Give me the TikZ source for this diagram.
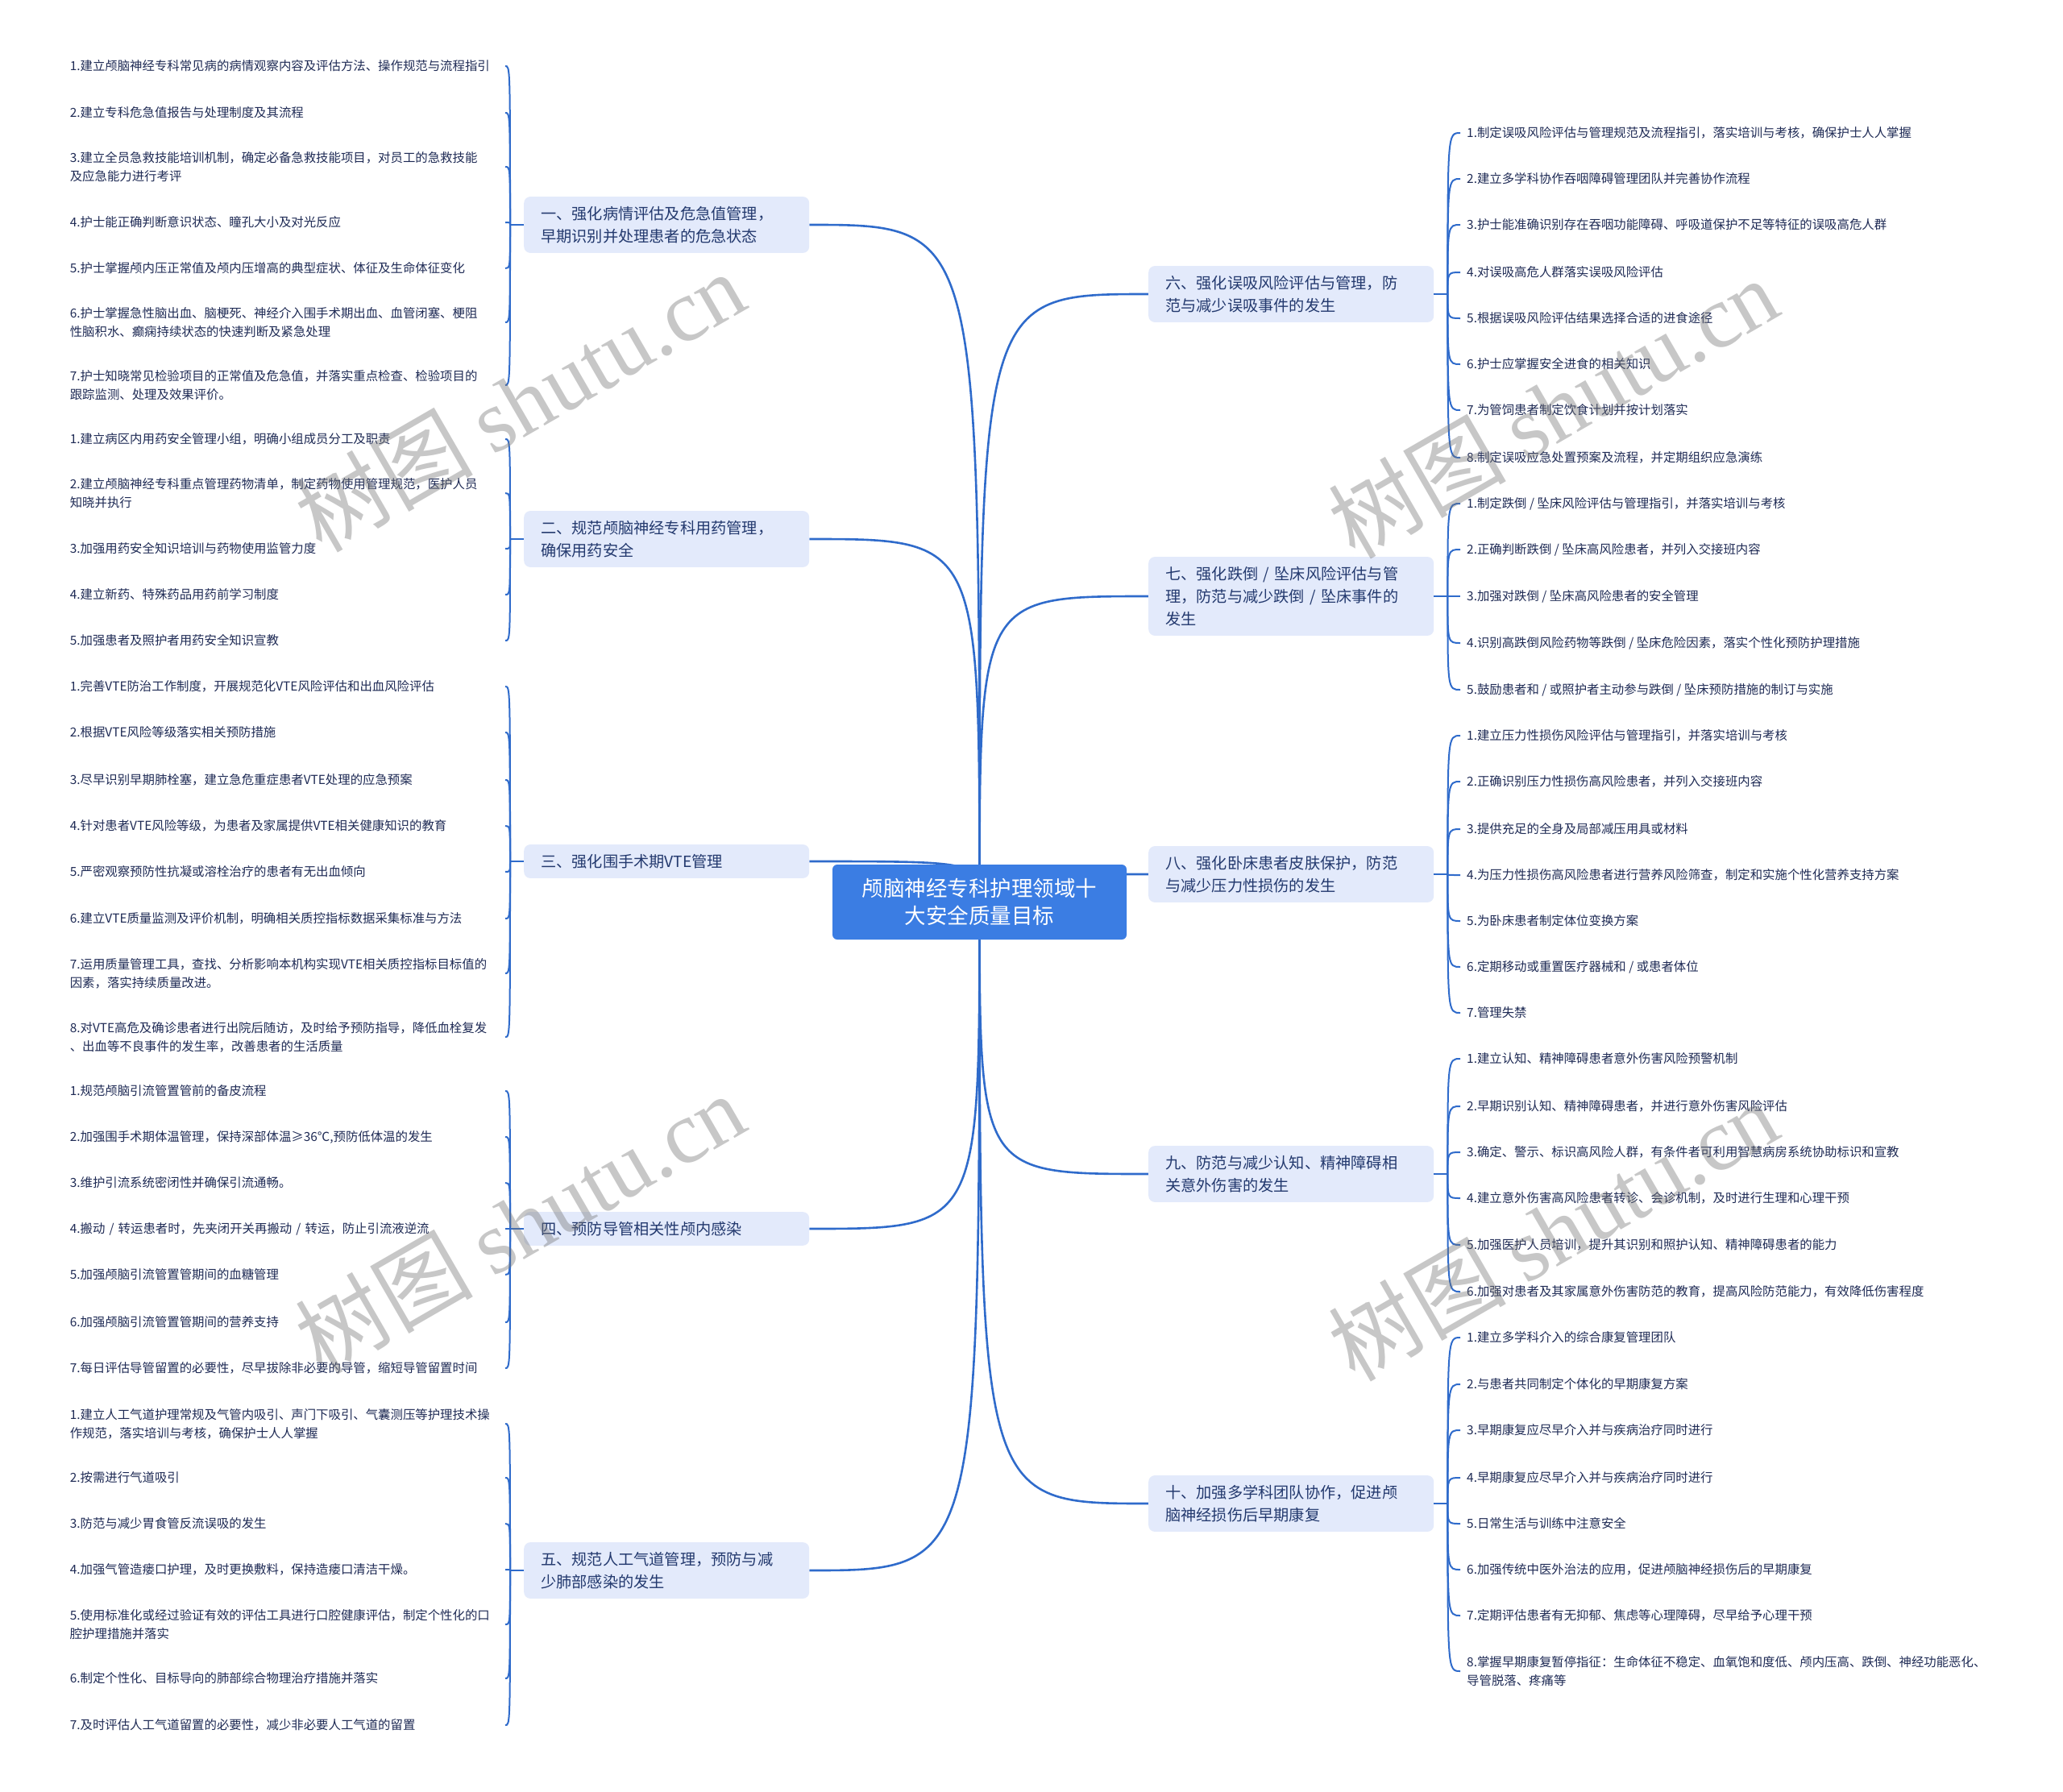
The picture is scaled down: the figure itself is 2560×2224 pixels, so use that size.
\documentclass[tikz,border=0pt]{standalone}
\usepackage{fontspec}
\setmainfont{Noto Sans CJK SC}
\newfontfamily\wmserif{Liberation Serif}
\usetikzlibrary{calc}
\pgfdeclarelayer{background}
\pgfsetlayers{background,main}
\definecolor{linec}{HTML}{2F6BCB}
\definecolor{centerc}{HTML}{3B7DE3}
\definecolor{branchc}{HTML}{E3EAFB}
\definecolor{branchtxt}{HTML}{23396E}
\definecolor{leaftxt}{HTML}{1F2B55}
\newcommand\leaffont{\fontsize{15.4}{23}\selectfont}
\newcommand\branchfont{\fontsize{19.2}{28}\selectfont}
\newcommand\centerfont{\fontsize{26.5}{34}\selectfont}
\newcommand\wmfont{\fontsize{110}{110}\selectfont}
\tikzset{
  mainline/.style={draw=linec, line width=2.6pt},
  leafline/.style={draw=linec, line width=2pt},
  centernode/.style={fill=centerc, rounded corners=6pt, minimum width=365pt, minimum height=93pt, align=center, font=\centerfont, text=white, inner sep=0pt},
  branch/.style={fill=branchc, rounded corners=8pt, text width=312pt, align=left, inner xsep=21pt, inner ysep=12pt, font=\branchfont, text=branchtxt, anchor=west},
  leafL/.style={anchor=east, text width=540pt, align=left, inner sep=0pt, font=\leaffont, text=leaftxt},
  leafR/.style={anchor=west, align=left, inner xsep=8pt, inner ysep=0pt, font=\leaffont, text=leaftxt},
  wm/.style={rotate=30, text=black!55, opacity=0.4, font=\wmfont, inner sep=0pt}
}
\begin{document}
\begin{tikzpicture}[x=1pt, y=-1pt]
\useasboundingbox (0,0) rectangle (2560,2224);

% center
\node[centernode] (C) at (1215.5,1119.5) {颅脑神经专科护理领域十\\大安全质量目标};

% left branches
\node[branch] (B1) at (650,279) {一、强化病情评估及危急值管理，\\早期识别并处理患者的危急状态};
\node[branch] (B2) at (650,669) {二、规范颅脑神经专科用药管理，\\确保用药安全};
\node[branch] (B3) at (650,1069) {三、强化围手术期VTE管理};
\node[branch] (B4) at (650,1525) {四、预防导管相关性颅内感染};
\node[branch] (B5) at (650,1949) {五、规范人工气道管理，预防与减\\少肺部感染的发生};

% right branches
\node[branch] (B6) at (1425,365) {六、强化误吸风险评估与管理，防\\范与减少误吸事件的发生};
\node[branch] (B7) at (1425,740) {七、强化跌倒 / 坠床风险评估与管\\理，防范与减少跌倒 / 坠床事件的\\发生};
\node[branch] (B8) at (1425,1085) {八、强化卧床患者皮肤保护，防范\\与减少压力性损伤的发生};
\node[branch] (B9) at (1425,1457) {九、防范与减少认知、精神障碍相\\关意外伤害的发生};
\node[branch] (B10) at (1425,1866) {十、加强多学科团队协作，促进颅\\脑神经损伤后早期康复};

% leaves of B1
\node[leafL] (a1) at (627,82) {1.建立颅脑神经专科常见病的病情观察内容及评估方法、操作规范与流程指引};
\node[leafL] (a2) at (627,140) {2.建立专科危急值报告与处理制度及其流程};
\node[leafL] (a3) at (627,207) {3.建立全员急救技能培训机制，确定必备急救技能项目，对员工的急救技能\\及应急能力进行考评};
\node[leafL] (a4) at (627,276) {4.护士能正确判断意识状态、瞳孔大小及对光反应};
\node[leafL] (a5) at (627,333) {5.护士掌握颅内压正常值及颅内压增高的典型症状、体征及生命体征变化};
\node[leafL] (a6) at (627,400) {6.护士掌握急性脑出血、脑梗死、神经介入围手术期出血、血管闭塞、梗阻\\性脑积水、癫痫持续状态的快速判断及紧急处理};
\node[leafL] (a7) at (627,478) {7.护士知晓常见检验项目的正常值及危急值，并落实重点检查、检验项目的\\跟踪监测、处理及效果评价。};

% leaves of B2
\node[leafL] (b1) at (627,545) {1.建立病区内用药安全管理小组，明确小组成员分工及职责};
\node[leafL] (b2) at (627,612) {2.建立颅脑神经专科重点管理药物清单，制定药物使用管理规范，医护人员\\知晓并执行};
\node[leafL] (b3) at (627,681) {3.加强用药安全知识培训与药物使用监管力度};
\node[leafL] (b4) at (627,738) {4.建立新药、特殊药品用药前学习制度};
\node[leafL] (b5) at (627,795) {5.加强患者及照护者用药安全知识宣教};

% leaves of B3
\node[leafL] (c1) at (627,852) {1.完善VTE防治工作制度，开展规范化VTE风险评估和出血风险评估};
\node[leafL] (c2) at (627,909) {2.根据VTE风险等级落实相关预防措施};
\node[leafL] (c3) at (627,968) {3.尽早识别早期肺栓塞，建立急危重症患者VTE处理的应急预案};
\node[leafL] (c4) at (627,1025) {4.针对患者VTE风险等级，为患者及家属提供VTE相关健康知识的教育};
\node[leafL] (c5) at (627,1082) {5.严密观察预防性抗凝或溶栓治疗的患者有无出血倾向};
\node[leafL] (c6) at (627,1140) {6.建立VTE质量监测及评价机制，明确相关质控指标数据采集标准与方法};
\node[leafL] (c7) at (627,1208) {7.运用质量管理工具，查找、分析影响本机构实现VTE相关质控指标目标值的\\因素，落实持续质量改进。};
\node[leafL] (c8) at (627,1287) {8.对VTE高危及确诊患者进行出院后随访，及时给予预防指导，降低血栓复发\\、出血等不良事件的发生率，改善患者的生活质量};

% leaves of B4
\node[leafL] (d1) at (627,1354) {1.规范颅脑引流管置管前的备皮流程};
\node[leafL] (d2) at (627,1411) {2.加强围手术期体温管理，保持深部体温≥36℃,预防低体温的发生};
\node[leafL] (d3) at (627,1468) {3.维护引流系统密闭性并确保引流通畅。};
\node[leafL] (d4) at (627,1525) {4.搬动 / 转运患者时，先夹闭开关再搬动 / 转运，防止引流液逆流};
\node[leafL] (d5) at (627,1582) {5.加强颅脑引流管置管期间的血糖管理};
\node[leafL] (d6) at (627,1641) {6.加强颅脑引流管置管期间的营养支持};
\node[leafL] (d7) at (627,1698) {7.每日评估导管留置的必要性，尽早拔除非必要的导管，缩短导管留置时间};

% leaves of B5
\node[leafL] (e1) at (627,1767) {1.建立人工气道护理常规及气管内吸引、声门下吸引、气囊测压等护理技术操\\作规范，落实培训与考核，确保护士人人掌握};
\node[leafL] (e2) at (627,1834) {2.按需进行气道吸引};
\node[leafL] (e3) at (627,1891) {3.防范与减少胃食管反流误吸的发生};
\node[leafL] (e4) at (627,1948) {4.加强气管造瘘口护理，及时更换敷料，保持造瘘口清洁干燥。};
\node[leafL] (e5) at (627,2016) {5.使用标准化或经过验证有效的评估工具进行口腔健康评估，制定个性化的口\\腔护理措施并落实};
\node[leafL] (e6) at (627,2083) {6.制定个性化、目标导向的肺部综合物理治疗措施并落实};
\node[leafL] (e7) at (627,2141) {7.及时评估人工气道留置的必要性，减少非必要人工气道的留置};

% leaves of B6
\node[leafR] (f1) at (1812,165) {1.制定误吸风险评估与管理规范及流程指引，落实培训与考核，确保护士人人掌握};
\node[leafR] (f2) at (1812,222) {2.建立多学科协作吞咽障碍管理团队并完善协作流程};
\node[leafR] (f3) at (1812,279) {3.护士能准确识别存在吞咽功能障碍、呼吸道保护不足等特征的误吸高危人群};
\node[leafR] (f4) at (1812,338) {4.对误吸高危人群落实误吸风险评估};
\node[leafR] (f5) at (1812,395) {5.根据误吸风险评估结果选择合适的进食途径};
\node[leafR] (f6) at (1812,452) {6.护士应掌握安全进食的相关知识};
\node[leafR] (f7) at (1812,509) {7.为管饲患者制定饮食计划并按计划落实};
\node[leafR] (f8) at (1812,568) {8.制定误吸应急处置预案及流程，并定期组织应急演练};

% leaves of B7
\node[leafR] (g1) at (1812,625) {1.制定跌倒 / 坠床风险评估与管理指引，并落实培训与考核};
\node[leafR] (g2) at (1812,682) {2.正确判断跌倒 / 坠床高风险患者，并列入交接班内容};
\node[leafR] (g3) at (1812,740) {3.加强对跌倒 / 坠床高风险患者的安全管理};
\node[leafR] (g4) at (1812,798) {4.识别高跌倒风险药物等跌倒 / 坠床危险因素，落实个性化预防护理措施};
\node[leafR] (g5) at (1812,856) {5.鼓励患者和 / 或照护者主动参与跌倒 / 坠床预防措施的制订与实施};

% leaves of B8
\node[leafR] (h1) at (1812,913) {1.建立压力性损伤风险评估与管理指引，并落实培训与考核};
\node[leafR] (h2) at (1812,970) {2.正确识别压力性损伤高风险患者，并列入交接班内容};
\node[leafR] (h3) at (1812,1029) {3.提供充足的全身及局部减压用具或材料};
\node[leafR] (h4) at (1812,1086) {4.为压力性损伤高风险患者进行营养风险筛查，制定和实施个性化营养支持方案};
\node[leafR] (h5) at (1812,1143) {5.为卧床患者制定体位变换方案};
\node[leafR] (h6) at (1812,1200) {6.定期移动或重置医疗器械和 / 或患者体位};
\node[leafR] (h7) at (1812,1257) {7.管理失禁};

% leaves of B9
\node[leafR] (i1) at (1812,1314) {1.建立认知、精神障碍患者意外伤害风险预警机制};
\node[leafR] (i2) at (1812,1373) {2.早期识别认知、精神障碍患者，并进行意外伤害风险评估};
\node[leafR] (i3) at (1812,1430) {3.确定、警示、标识高风险人群，有条件者可利用智慧病房系统协助标识和宣教};
\node[leafR] (i4) at (1812,1487) {4.建立意外伤害高风险患者转诊、会诊机制，及时进行生理和心理干预};
\node[leafR] (i5) at (1812,1545) {5.加强医护人员培训，提升其识别和照护认知、精神障碍患者的能力};
\node[leafR] (i6) at (1812,1603) {6.加强对患者及其家属意外伤害防范的教育，提高风险防范能力，有效降低伤害程度};

% leaves of B10
\node[leafR] (j1) at (1812,1660) {1.建立多学科介入的综合康复管理团队};
\node[leafR] (j2) at (1812,1718) {2.与患者共同制定个体化的早期康复方案};
\node[leafR] (j3) at (1812,1775) {3.早期康复应尽早介入并与疾病治疗同时进行};
\node[leafR] (j4) at (1812,1834) {4.早期康复应尽早介入并与疾病治疗同时进行};
\node[leafR] (j5) at (1812,1891) {5.日常生活与训练中注意安全};
\node[leafR] (j6) at (1812,1948) {6.加强传统中医外治法的应用，促进颅脑神经损伤后的早期康复};
\node[leafR] (j7) at (1812,2005) {7.定期评估患者有无抑郁、焦虑等心理障碍，尽早给予心理干预};
\node[leafR] (j8) at (1812,2074) {8.掌握早期康复暂停指征：生命体征不稳定、血氧饱和度低、颅内压高、跌倒、神经功能恶化、\\导管脱落、疼痛等};

% spine coordinates
\coordinate (s1) at ([xshift=-17pt]B1.west);
\coordinate (s2) at ([xshift=-17pt]B2.west);
\coordinate (s3) at ([xshift=-17pt]B3.west);
\coordinate (s4) at ([xshift=-17pt]B4.west);
\coordinate (s5) at ([xshift=-17pt]B5.west);
\coordinate (s6) at ([xshift=17pt]B6.east);
\coordinate (s7) at ([xshift=17pt]B7.east);
\coordinate (s8) at ([xshift=17pt]B8.east);
\coordinate (s9) at ([xshift=17pt]B9.east);
\coordinate (s10) at ([xshift=17pt]B10.east);

\begin{pgfonlayer}{background}
\fill[white] (0,0) rectangle (2560,2224);
\foreach \b in {B1,B2,B3,B4,B5}
  \draw[mainline] (C.center) .. controls (C.center |- \b.east) .. (\b.east);
\foreach \b in {B6,B7,B8,B9,B10}
  \draw[mainline] (C.center) .. controls (C.center |- \b.west) .. (\b.west);
\end{pgfonlayer}

% brackets
\draw[leafline] (B1.west) -- (s1);
\foreach \n in {a1,a2,a3,a4,a5,a6,a7} \draw[leafline] (s1) .. controls (s1 |- \n.east) .. (\n.east);
\draw[leafline] (B2.west) -- (s2);
\foreach \n in {b1,b2,b3,b4,b5} \draw[leafline] (s2) .. controls (s2 |- \n.east) .. (\n.east);
\draw[leafline] (B3.west) -- (s3);
\foreach \n in {c1,c2,c3,c4,c5,c6,c7,c8} \draw[leafline] (s3) .. controls (s3 |- \n.east) .. (\n.east);
\draw[leafline] (B4.west) -- (s4);
\foreach \n in {d1,d2,d3,d4,d5,d6,d7} \draw[leafline] (s4) .. controls (s4 |- \n.east) .. (\n.east);
\draw[leafline] (B5.west) -- (s5);
\foreach \n in {e1,e2,e3,e4,e5,e6,e7} \draw[leafline] (s5) .. controls (s5 |- \n.east) .. (\n.east);
\draw[leafline] (B6.east) -- (s6);
\foreach \n in {f1,f2,f3,f4,f5,f6,f7,f8} \draw[leafline] (s6) .. controls (s6 |- \n.west) .. (\n.west);
\draw[leafline] (B7.east) -- (s7);
\foreach \n in {g1,g2,g3,g4,g5} \draw[leafline] (s7) .. controls (s7 |- \n.west) .. (\n.west);
\draw[leafline] (B8.east) -- (s8);
\foreach \n in {h1,h2,h3,h4,h5,h6,h7} \draw[leafline] (s8) .. controls (s8 |- \n.west) .. (\n.west);
\draw[leafline] (B9.east) -- (s9);
\foreach \n in {i1,i2,i3,i4,i5,i6} \draw[leafline] (s9) .. controls (s9 |- \n.west) .. (\n.west);
\draw[leafline] (B10.east) -- (s10);
\foreach \n in {j1,j2,j3,j4,j5,j6,j7,j8} \draw[leafline] (s10) .. controls (s10 |- \n.west) .. (\n.west);

% watermarks
\node[wm] (w1) at (645,498) {树图 {\wmserif shutu.cn}};
\node[wm] (w2) at (1927,506) {树图 {\wmserif shutu.cn}};
\node[wm] (w3) at (645,1518) {树图 {\wmserif shutu.cn}};
\node[wm] (w4) at (1927,1527) {树图 {\wmserif shutu.cn}};
\end{tikzpicture}
\end{document}
